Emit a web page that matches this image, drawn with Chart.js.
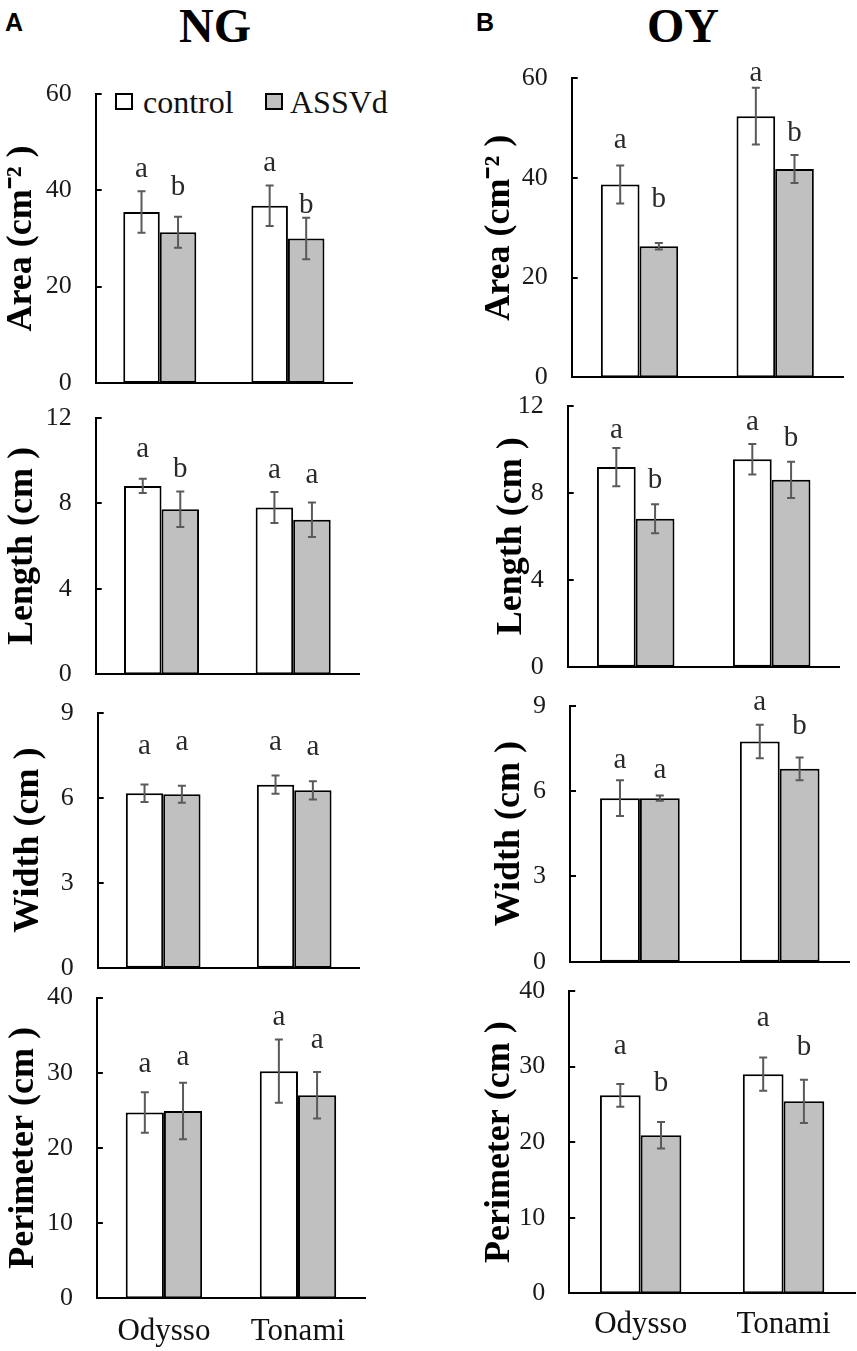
<!DOCTYPE html>
<html><head><meta charset="utf-8">
<script src="https://cdn.jsdelivr.net/npm/chart.js@4.4.0/dist/chart.umd.min.js"></script>
<style>
html,body{margin:0;padding:0;background:#fff}
body{width:857px;height:1351px;position:relative;overflow:hidden;font-family:'Liberation Serif','Times New Roman',serif}
canvas{position:absolute}
.t{position:absolute;line-height:1;white-space:nowrap;color:#000}
.sq{position:absolute;box-sizing:border-box;border:2px solid #000}
</style></head><body>

<div class="t" style="left:5px;top:8px;font:bold 25px 'Liberation Sans',Arial,sans-serif">A</div>
<div class="t" style="left:476px;top:8px;font:bold 25px 'Liberation Sans',Arial,sans-serif">B</div>
<div class="t" style="left:215px;top:-2px;transform:translateX(-50%);font:bold 48px 'Liberation Serif',serif">NG</div>
<div class="t" style="left:683px;top:-2px;transform:translateX(-50%);font:bold 48px 'Liberation Serif',serif">OY</div>

<div class="sq" style="left:115px;top:93px;width:18px;height:17px;background:#fff"></div>
<div class="t" style="left:143px;top:84px;font:32px 'Liberation Serif',serif;color:#111">control</div>
<div class="sq" style="left:265px;top:93px;width:18px;height:17px;background:#c0c0c0"></div>
<div class="t" style="left:290px;top:84px;font:32px 'Liberation Serif',serif;color:#111">ASSVd</div>

<script>
// ---------------- DATA ----------------
const categories = ['Odysso', 'Tonami'];
const seriesNames = ['control', 'ASSVd'];

// NG – Area (cm-2)
const areaNGControl = [35.5, 36.8];
const areaNGControlErr = [4.3, 4.2];
const areaNGAssvd = [31.3, 30.0];
const areaNGAssvdErr = [3.2, 4.3];
const areaNGControlLetters = ['a', 'a'];
const areaNGAssvdLetters = ['b', 'b'];
const areaNGControlLetterY = [44.2, 45.4];
const areaNGAssvdLetterY = [41.1, 37.3];

// NG – Length (cm)
const lengthNGControl = [8.81, 7.8];
const lengthNGControlErr = [0.33, 0.73];
const lengthNGAssvd = [7.72, 7.23];
const lengthNGAssvdErr = [0.83, 0.81];
const lengthNGControlLetters = ['a', 'a'];
const lengthNGAssvdLetters = ['b', 'a'];
const lengthNGControlLetterY = [10.48, 9.5];
const lengthNGAssvdLetterY = [9.67, 9.23];

// NG – Width (cm)
const widthNGControl = [6.16, 6.46];
const widthNGControlErr = [0.31, 0.32];
const widthNGAssvd = [6.12, 6.26];
const widthNGAssvdErr = [0.30, 0.32];
const widthNGControlLetters = ['a', 'a'];
const widthNGAssvdLetters = ['a', 'a'];
const widthNGControlLetterY = [7.76, 7.9];
const widthNGAssvdLetterY = [7.93, 7.72];

// NG – Perimeter (cm)
const perimNGControl = [24.7, 30.2];
const perimNGControlErr = [2.7, 4.2];
const perimNGAssvd = [24.9, 27.0];
const perimNGAssvdErr = [3.75, 3.1];
const perimNGControlLetters = ['a', 'a'];
const perimNGAssvdLetters = ['a', 'a'];
const perimNGControlLetterY = [30.9, 37.2];
const perimNGAssvdLetterY = [31.9, 34.1];

// OY – Area (cm-2)
const areaOYControl = [38.7, 52.4];
const areaOYControlErr = [3.8, 5.7];
const areaOYAssvd = [26.3, 41.8];
const areaOYAssvdErr = [0.65, 2.8];
const areaOYControlLetters = ['a', 'a'];
const areaOYAssvdLetters = ['b', 'b'];
const areaOYControlLetterY = [47.3, 60.7];
const areaOYAssvdLetterY = [36.2, 49.3];

// OY – Length (cm)
const lengthOYControl = [9.19, 9.55];
const lengthOYControlErr = [0.88, 0.7];
const lengthOYAssvd = [6.81, 8.6];
const lengthOYAssvdErr = [0.67, 0.83];
const lengthOYControlLetters = ['a', 'a'];
const lengthOYAssvdLetters = ['b', 'b'];
const lengthOYControlLetterY = [10.82, 11.2];
const lengthOYAssvdLetterY = [8.67, 10.62];

// OY – Width (cm)
const widthOYControl = [5.75, 7.74];
const widthOYControlErr = [0.63, 0.59];
const widthOYAssvd = [5.75, 6.78];
const widthOYAssvdErr = [0.09, 0.4];
const widthOYControlLetters = ['a', 'a'];
const widthOYAssvdLetters = ['a', 'b'];
const widthOYControlLetterY = [7.03, 9.09];
const widthOYAssvdLetterY = [6.7, 8.35];

// OY – Perimeter (cm)
const perimOYControl = [26.2, 29.0];
const perimOYControlErr = [1.5, 2.2];
const perimOYAssvd = [20.9, 25.4];
const perimOYAssvdErr = [1.75, 2.85];
const perimOYControlLetters = ['a', 'a'];
const perimOYAssvdLetters = ['b', 'b'];
const perimOYControlLetterY = [32.5, 36.2];
const perimOYAssvdLetterY = [28.1, 32.9];

// Axis ranges / tick steps
const areaTicks = {max: 60, step: 20};
const lengthTicks = {max: 12, step: 4};
const widthTicks = {max: 9, step: 3};
const perimTicks = {max: 40, step: 10};

// ---------------- PANELS ----------------
const panels = [
  {title: 'Area (cm\u207B\u00B2 )', ax: areaTicks, c: areaNGControl, ce: areaNGControlErr, a: areaNGAssvd, ae: areaNGAssvdErr, cl: areaNGControlLetters, al: areaNGAssvdLetters, cly: areaNGControlLetterY, aly: areaNGAssvdLetterY,
   L: {cx: 0, cw: 430, left: 95.7, right: 352, top: 94, bottom: 383, titleX: 21, xl: false}},
  {title: 'Length (cm )', ax: lengthTicks, c: lengthNGControl, ce: lengthNGControlErr, a: lengthNGAssvd, ae: lengthNGAssvdErr, cl: lengthNGControlLetters, al: lengthNGAssvdLetters, cly: lengthNGControlLetterY, aly: lengthNGAssvdLetterY,
   L: {cx: 0, cw: 430, left: 95.7, right: 359, top: 417.7, bottom: 674.3, titleX: 23, xl: false}},
  {title: 'Width (cm )', ax: widthTicks, c: widthNGControl, ce: widthNGControlErr, a: widthNGAssvd, ae: widthNGAssvdErr, cl: widthNGControlLetters, al: widthNGAssvdLetters, cly: widthNGControlLetterY, aly: widthNGAssvdLetterY,
   L: {cx: 0, cw: 430, left: 97.7, right: 359.7, top: 712.7, bottom: 967.7, titleX: 29, xl: false}},
  {title: 'Perimeter (cm )', ax: perimTicks, c: perimNGControl, ce: perimNGControlErr, a: perimNGAssvd, ae: perimNGAssvdErr, cl: perimNGControlLetters, al: perimNGAssvdLetters, cly: perimNGControlLetterY, aly: perimNGAssvdLetterY,
   L: {cx: 0, cw: 430, left: 96.9, right: 365, top: 997.5, bottom: 1298.3, titleX: 24, xl: true, xpad: 15}},
  {title: 'Area (cm\u207B\u00B2 )', ax: areaTicks, c: areaOYControl, ce: areaOYControlErr, a: areaOYAssvd, ae: areaOYAssvdErr, cl: areaOYControlLetters, al: areaOYAssvdLetters, cly: areaOYControlLetterY, aly: areaOYAssvdLetterY,
   L: {cx: 475, cw: 382, left: 571.7, right: 843, top: 78.3, bottom: 377.3, titleX: 500, xl: false}},
  {title: 'Length (cm )', ax: lengthTicks, c: lengthOYControl, ce: lengthOYControlErr, a: lengthOYAssvd, ae: lengthOYAssvdErr, cl: lengthOYControlLetters, al: lengthOYAssvdLetters, cly: lengthOYControlLetterY, aly: lengthOYAssvdLetterY,
   L: {cx: 475, cw: 382, left: 567.7, right: 839.7, top: 406, bottom: 666.7, titleX: 512, xl: false}},
  {title: 'Width (cm )', ax: widthTicks, c: widthOYControl, ce: widthOYControlErr, a: widthOYAssvd, ae: widthOYAssvdErr, cl: widthOYControlLetters, al: widthOYAssvdLetters, cly: widthOYControlLetterY, aly: widthOYAssvdLetterY,
   L: {cx: 475, cw: 382, left: 570, right: 849.6, top: 705.7, bottom: 961.7, titleX: 510, xl: false}},
  {title: 'Perimeter (cm )', ax: perimTicks, c: perimOYControl, ce: perimOYControlErr, a: perimOYAssvd, ae: perimOYAssvdErr, cl: perimOYControlLetters, al: perimOYAssvdLetters, cly: perimOYControlLetterY, aly: perimOYAssvdLetterY,
   L: {cx: 475, cw: 382, left: 569.2, right: 855, top: 991, bottom: 1293.3, titleX: 500, xl: true, xpad: 13}}
];

const SERIF = "'Liberation Serif', 'Times New Roman', serif";
Chart.defaults.font.family = SERIF;

const errorBarPlugin = {
  id: 'errorBars',
  afterDatasetsDraw(chart) {
    const ctx = chart.ctx;
    const ys = chart.scales.y;
    chart.data.datasets.forEach((ds, i) => {
      const meta = chart.getDatasetMeta(i);
      meta.data.forEach((bar, j) => {
        const v = ds.data[j], e = ds.err[j];
        const x = bar.x;
        const yt = ys.getPixelForValue(v + e), yb = ys.getPixelForValue(v - e);
        ctx.save();
        ctx.strokeStyle = '#5a5a5a';
        ctx.lineWidth = 2;
        ctx.beginPath();
        ctx.moveTo(x, yt); ctx.lineTo(x, yb);
        ctx.moveTo(x - 4, yt); ctx.lineTo(x + 4, yt);
        ctx.moveTo(x - 4, yb); ctx.lineTo(x + 4, yb);
        ctx.stroke();
        // significance letter
        const L = ds.letters[j];
        const fs = 29;
        ctx.font = fs + 'px ' + SERIF;
        ctx.fillStyle = '#2a2a2a';
        ctx.textAlign = 'center';
        ctx.textBaseline = 'alphabetic';
        const yc = ys.getPixelForValue(ds.letterY[j]);
        const off = (L === 'b' ? 0.34 : 0.225) * fs;
        ctx.fillText(L, x, yc + off);
        ctx.restore();
      });
    });
  }
};

const inwardTicksPlugin = {
  id: 'inwardTicks',
  afterDraw(chart) {
    const ctx = chart.ctx, ys = chart.scales.y, ca = chart.chartArea;
    ctx.save();
    ctx.strokeStyle = '#000';
    ctx.lineWidth = 2;
    ys.ticks.forEach(t => {
      const y = Math.round(ys.getPixelForValue(t.value));
      ctx.beginPath();
      ctx.moveTo(ca.left, y); ctx.lineTo(ca.left + 6, y);
      ctx.stroke();
    });
    ctx.restore();
  }
};

function zeroPad(s) {
  s.paddingTop = 0; s.paddingBottom = 0; s.paddingLeft = 0; s.paddingRight = 0;
}

panels.forEach((p, idx) => {
  const L = p.L;
  const cTop = Math.floor(L.top) - 22;
  const cBottom = L.xl ? 1351 : Math.ceil(L.bottom) + 18;
  const cw = L.cw, ch = cBottom - cTop;
  const cv = document.createElement('canvas');
  cv.width = cw; cv.height = ch;
  cv.style.left = L.cx + 'px'; cv.style.top = cTop + 'px';
  cv.style.width = cw + 'px'; cv.style.height = ch + 'px';
  document.body.appendChild(cv);

  const yWidth = L.left - L.cx;
  const xHeight = L.xl ? (1351 - L.bottom) : 0;
  const padBottom = L.xl ? 0 : (cBottom - L.bottom);
  const titlePad = Math.max(0, L.titleX - L.cx - 0.6 * 36);

  new Chart(cv, {
    type: 'bar',
    data: {
      labels: categories,
      datasets: [
        {label: seriesNames[0], data: p.c, err: p.ce, letters: p.cl, letterY: p.cly,
         backgroundColor: '#ffffff', borderColor: '#000000', borderWidth: 2, borderSkipped: false},
        {label: seriesNames[1], data: p.a, err: p.ae, letters: p.al, letterY: p.aly,
         backgroundColor: '#c0c0c0', borderColor: '#000000', borderWidth: 2, borderSkipped: false}
      ]
    },
    options: {
      responsive: false,
      animation: false,
      devicePixelRatio: 1,
      layout: {padding: {left: 0, right: (L.cx + cw) - L.right, top: L.top - cTop, bottom: padBottom}},
      datasets: {bar: {categoryPercentage: 0.57, barPercentage: 1.0}},
      plugins: {legend: {display: false}, tooltip: {enabled: false}},
      scales: {
        x: {
          type: 'category',
          offset: true,
          grid: {display: false, drawTicks: false},
          border: {display: true, color: '#000', width: 2},
          ticks: {display: L.xl, padding: L.xpad || 0, color: '#111', font: {family: SERIF, size: 31}},
          afterFit: s => { s.height = xHeight; zeroPad(s); }
        },
        y: {
          min: 0, max: p.ax.max,
          grid: {display: false, drawTicks: false},
          border: {display: true, color: '#000', width: 2},
          ticks: {stepSize: p.ax.step, padding: 24, color: '#1a1a1a', font: {family: SERIF, size: 26}},
          title: {display: true, text: p.title, color: '#000', padding: {top: titlePad, bottom: 0},
                  font: {family: SERIF, size: 36, weight: 'bold'}},
          afterFit: s => { s.width = yWidth; zeroPad(s); }
        }
      }
    },
    plugins: [errorBarPlugin, inwardTicksPlugin]
  });
});
</script>
</body></html>
